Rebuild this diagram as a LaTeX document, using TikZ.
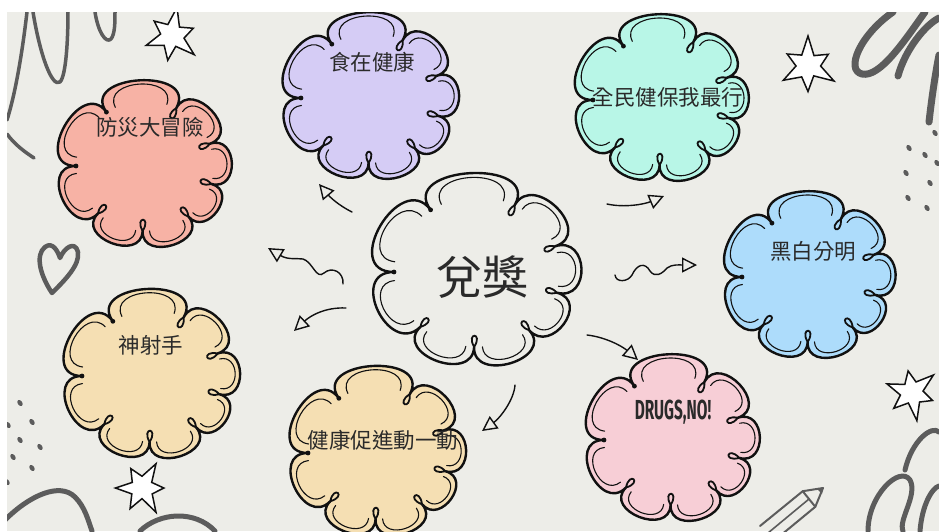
\documentclass[tikz,border=0pt]{standalone}
\usepackage{fontspec}
\usepackage{graphicx}
\newfontfamily\cjk{Noto Sans CJK TC}
\newfontfamily\drugsfont{Fira Sans}
\usetikzlibrary{arrows.meta}

\definecolor{bg}{HTML}{EDEDE8}
\definecolor{ink}{HTML}{111111}
\definecolor{txt}{HTML}{2A2A2A}
\definecolor{scribble}{HTML}{5C5C5C}
\definecolor{salmon}{HTML}{F7B2A5}
\definecolor{lavender}{HTML}{D5CCF5}
\definecolor{mint}{HTML}{B8F6E7}
\definecolor{sky}{HTML}{ADDCFB}
\definecolor{sand}{HTML}{F5DFB3}
\definecolor{rose}{HTML}{F7CED6}

\tikzset{
  cloudline/.style={draw=ink, line width=2.4pt, line join=round},
  innerline/.style={draw=ink, line width=1.1pt, line cap=round},
  loopline/.style={draw=ink, line width=1.8pt},
  label/.style={inner sep=0pt, text=txt, font=\cjk\fontsize{21.5}{22}\selectfont},
  conn/.style={draw=ink, line width=1.4pt, line cap=round,
    -{Triangle[open, length=15pt, width=15pt]}},
  scrib/.style={draw=scribble, line cap=round, line join=round},
  starline/.style={draw=ink, fill=white, line width=1.5pt, line join=miter},
}

% scalloped cloud: centre (#1,#2), base radii #3/#4, fill colour #5
\newcommand{\cloudshape}[5]{%
  \filldraw[cloudline, fill=#5] ({#1+#3*cos(180)},{#2+#4*sin(180)})
    \foreach \a/\b in {180/236,236/297,297/340,340/376,376/411,411/452,452/493,493/540} {
      .. controls ({#1+#3*cos(\a)*(1+1.4*sin((\b-\a)/2))},{#2+#4*sin(\a)*(1+1.4*sin((\b-\a)/2))})
      and ({#1+#3*cos(\b)*(1+1.4*sin((\b-\a)/2))},{#2+#4*sin(\b)*(1+1.4*sin((\b-\a)/2))})
      .. ({#1+#3*cos(\b)},{#2+#4*sin(\b)})
    } -- cycle;
  \foreach \a/\b in {180/236,236/297,297/340,340/376,376/411,411/452,452/493,493/540} {
    \pgfmathsetmacro\lobeE{0.14*(\b-\a)}
    \pgfmathsetmacro\lobeS{1+0.95*sin((\b-\a)/2)}
    \pgfmathsetmacro\lobeP{\a+\lobeE}
    \pgfmathsetmacro\lobeQ{\b-\lobeE}
    \draw[innerline] ({#1+#3*cos(\lobeP)},{#2+#4*sin(\lobeP)})
      .. controls ({#1+\lobeS*#3*cos(\lobeP)},{#2+\lobeS*#4*sin(\lobeP)})
      and ({#1+\lobeS*#3*cos(\lobeQ)},{#2+\lobeS*#4*sin(\lobeQ)})
      .. ({#1+#3*cos(\lobeQ)},{#2+#4*sin(\lobeQ)});
  }
  \foreach \t in {297,340,376,411,452,493} {
    \draw[loopline] ({#1+#3*cos(\t)},{#2+#4*sin(\t)})
      .. controls ({#1+(#3-15)*cos(\t)-9*sin(\t)},{#2+(#4-15)*sin(\t)+9*cos(\t)})
      and ({#1+(#3-15)*cos(\t)+9*sin(\t)},{#2+(#4-15)*sin(\t)-9*cos(\t)})
      .. ({#1+#3*cos(\t)},{#2+#4*sin(\t)});
  }
  \foreach \t in {180,236} {
    \fill[ink] ({#1+#3*cos(\t)},{#2+#4*sin(\t)}) circle[radius=2.4];
  }
}

% six-pointed doodle star: centre (#1,#2), radius #3, turn #4
\newcommand{\doodlestar}[4]{%
  \filldraw[starline] ({#1+#3*cos(#4)},{#2+#3*sin(#4)})
    \foreach \k/\rr in {1/0.4,2/0.78,3/0.42,4/1,5/0.38,6/0.85,7/0.42,8/0.95,9/0.4,10/0.8,11/0.42} {
      -- ({#1+\rr*#3*cos(#4+30*\k)},{#2+\rr*#3*sin(#4+30*\k)})
    } -- cycle;
}

\begin{document}
\begin{tikzpicture}[x=1pt, y=-1pt]
\useasboundingbox (0,0) rectangle (939,531);
\fill[bg] (0,0) rectangle (939,531);

% background scribbles
\draw[scrib, line width=3.5pt] (27,12) .. controls (22,55) and (15,95) .. (7,120);
\draw[scrib, line width=3.5pt] (7,134) .. controls (15,145) and (25,152) .. (34,158);
\draw[scrib, line width=3.5pt] (33,12) .. controls (40,55) and (52,88) .. (60,82)
  .. controls (66,76) and (68,40) .. (68,12);
\draw[scrib, line width=3.5pt] (95,12) .. controls (98,32) and (106,44) .. (111,39)
  .. controls (115,34) and (115,22) .. (115,12);
\draw[scrib, line width=7pt] (893,12) .. controls (860,35) and (845,70) .. (862,74)
  .. controls (880,78) and (905,40) .. (925,12);
\draw[scrib, line width=7pt] (898,76) .. controls (905,50) and (925,25) .. (939,18);
\draw[scrib, line width=7pt] (929,122) .. controls (932,95) and (936,70) .. (939,55);
\draw[scrib, line width=5pt] (5,520) .. controls (30,495) and (60,482) .. (75,497)
  .. controls (85,507) and (88,520) .. (92,531);
\draw[scrib, line width=5pt] (140,531) .. controls (160,512) and (195,510) .. (215,531);
\draw[scrib, line width=5pt] (868,531) .. controls (868,495) and (900,465) .. (910,480)
  .. controls (918,495) and (898,520) .. (903,531);
\draw[scrib, line width=5pt] (905,470) .. controls (912,440) and (932,425) .. (939,432);
\draw[scrib, line width=5pt] (920,531) .. controls (922,505) and (932,488) .. (939,486);

% heart
\draw[scrib, line width=4.5pt] (52,293) .. controls (40,275) and (35,255) .. (45,247)
  .. controls (53,241) and (58,252) .. (60,258) .. controls (64,248) and (75,240) .. (78,252)
  .. controls (80,265) and (65,280) .. (52,293) -- cycle;

% speckles
\foreach \x/\y in {935/133,909/148,925/155,937/163,906/173,930/183,908/198,927/208,
                   20/403,32/422,8/425,20/440,40/447,13/457,32/468,7/482}
  \fill[scribble] (\x,\y) circle[x radius=2.3, y radius=3.4, rotate=35];

% pencil
\draw[scrib, line width=2pt] (823,488) -- (802.7,491.2) -- (760,526);
\draw[scrib, line width=2pt] (823,488) -- (815.3,506.8) -- (775,540);
\draw[scrib, line width=2pt] (802.7,491.2) -- (815.3,506.8);
\draw[scrib, line width=1.6pt] (809,499) -- (768,533);
\fill[scribble] (823,488) -- (817,489) -- (822,494) -- cycle;

% stars
\doodlestar{172}{36}{29}{-80}
\doodlestar{808}{66}{30}{-90}
\doodlestar{142}{488}{28}{-60}
\doodlestar{912}{393}{28}{-40}

% clouds
\cloudshape{145}{166}{69}{65}{salmon}
\cloudshape{371}{98}{70}{65}{lavender}
\cloudshape{662}{100}{69}{65}{mint}
\cloudshape{477}{272}{83}{75}{bg}
\cloudshape{810}{277}{68}{65}{sky}
\cloudshape{152}{376}{70}{66}{sand}
\cloudshape{378}{453}{70}{66}{sand}
\cloudshape{673}{440}{69}{65}{rose}

% labels
\node[label] (fangzai) at (150,127) {防災大冒險};
\node[label] (shizai) at (372,62) {食在健康};
\node[label] (quanmin) at (668,97) {全民健保我最行};
\node[label, font=\cjk\fontsize{46}{46}\selectfont] (duijiang) at (482,277) {兌獎};
\node[label] (heibai) at (813,251) {黑白分明};
\node[label] (shenshe) at (151,345) {神射手};
\node[label] (jiankang) at (383,440) {健康促進動一動};
\node[inner sep=0pt, text=txt] (drugs) at (673,412)
  {\scalebox{0.56}[1]{\drugsfont\bfseries\fontsize{27.5}{28}\selectfont DRUGS,NO!}};

% arrows pointing out from the centre cloud
\coordinate (a1s) at (352,212); \coordinate (a1e) at (319,184);
\coordinate (a2s) at (343,284); \coordinate (a2e) at (268,248);
\coordinate (a3s) at (346,308); \coordinate (a3e) at (294,331);
\coordinate (a4s) at (607,204); \coordinate (a4e) at (664,196);
\coordinate (a5s) at (615,275); \coordinate (a5e) at (697,265);
\coordinate (a6s) at (587,335); \coordinate (a6e) at (638,360);
\coordinate (a7s) at (515,385); \coordinate (a7e) at (482,431);

\draw[conn] (a1s) .. controls (338,205) and (330,197) .. (a1e);
\draw[conn] (a2s) .. controls (344,272) and (332,266) .. (324,273)
  .. controls (316,280) and (313,262) .. (303,259)
  .. controls (296,258) and (288,260) .. (a2e);
\draw[conn] (a3s) .. controls (325,307) and (310,316) .. (a3e);
\draw[conn] (a4s) .. controls (625,208) and (645,204) .. (a4e);
\draw[conn] (a5s) .. controls (616,283) and (628,282) .. (632,275)
  .. controls (637,264) and (645,262) .. (650,271)
  .. controls (655,278) and (662,274) .. (667,268)
  .. controls (672,264) and (680,265) .. (a5e);
\draw[conn] (a6s) .. controls (605,337) and (622,346) .. (a6e);
\draw[conn] (a7s) .. controls (514,400) and (500,418) .. (a7e);

% white page margins
\fill[white] (0,0) rectangle (939,12);
\fill[white] (0,0) rectangle (7,531);
\end{tikzpicture}
\end{document}
